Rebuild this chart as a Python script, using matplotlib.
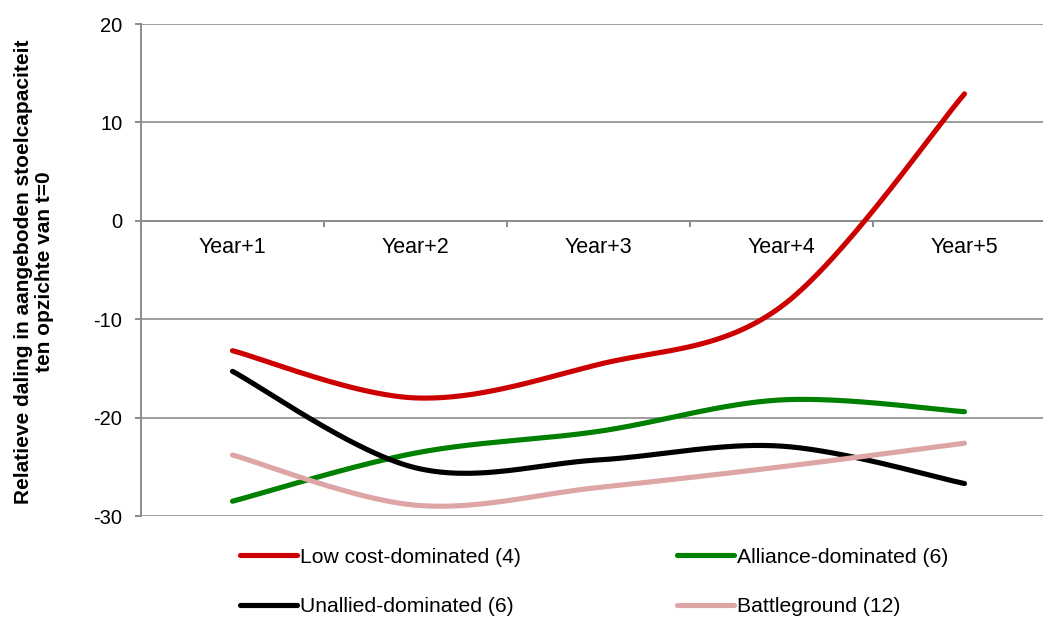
import numpy as np
import matplotlib
matplotlib.use("Agg")
import matplotlib.pyplot as plt

plt.rcParams['font.family'] = ['Liberation Sans', 'DejaVu Sans']

categories = ["Year+1", "Year+2", "Year+3", "Year+4", "Year+5"]
low_cost = [-13.2, -18.0, -14.6, -8.7, 12.9]
alliance = [-28.5, -23.6, -21.4, -18.2, -19.4]
unallied = [-15.3, -25.1, -24.3, -22.9, -26.7]
battleground = [-23.8, -28.9, -27.1, -25.0, -22.6]

series = [
    ("Low cost-dominated (4)", low_cost, "#CC0000"),
    ("Alliance-dominated (6)", alliance, "#008000"),
    ("Unallied-dominated (6)", unallied, "#000000"),
    ("Battleground (12)", battleground, "#DDA5A5"),
]
legend_order = [0, 2, 1, 3]


def smooth(xs, ys, n=60):
    xs = np.asarray(xs, float)
    ys = np.asarray(ys, float)
    P = np.column_stack([xs, ys])
    Pext = np.vstack([P[0], P, P[-1]])
    out = []
    for i in range(len(P) - 1):
        p0, p1, p2, p3 = Pext[i], Pext[i + 1], Pext[i + 2], Pext[i + 3]
        c1 = p1 + (p2 - p0) / 6.0
        c2 = p2 - (p3 - p1) / 6.0
        t = np.linspace(0, 1, n)[:, None]
        b = ((1 - t) ** 3) * p1 + 3 * ((1 - t) ** 2) * t * c1 + 3 * (1 - t) * t ** 2 * c2 + t ** 3 * p2
        out.append(b if i == 0 else b[1:])
    out = np.vstack(out)
    return out[:, 0], out[:, 1]


W, H = 1043, 617
fig = plt.figure(figsize=(W / 100, H / 100), dpi=100)
ax = fig.add_axes([141 / W, 1 - 516 / H, 915 / W, 492 / H])

x = np.arange(1, len(categories) + 1)
handles = []
for label, vals, color in series:
    sx, sy = smooth(x, vals)
    ln, = ax.plot(sx, sy, color=color, lw=3.7, solid_capstyle='round', zorder=3, label=label)
    handles.append(ln)

ax.set_xlim(0.5, len(categories) + 0.5)
ax.set_ylim(-30, 20)
ax.set_yticks([-30, -20, -10, 0, 10, 20])
ax.set_yticklabels(["-30", "-20", "-10", "0", "10", "20"])
ax.yaxis.grid(True, color="#8C8C8C", lw=1.2)
ax.set_axisbelow(True)

for s in ["top", "right"]:
    ax.spines[s].set_visible(False)
ax.spines["left"].set_color("#8C8C8C")
ax.spines["left"].set_linewidth(1.4)
ax.spines["bottom"].set_position(("data", 0))
ax.spines["bottom"].set_color("#8C8C8C")
ax.spines["bottom"].set_linewidth(1.4)

ax.set_xticks(np.arange(0.5, len(categories) + 1, 1.0))
ax.set_xticklabels([])
ax.set_xticks(x, minor=True)
ax.set_xticklabels(categories, minor=True)
ax.tick_params(axis="x", which="major", length=4.5, width=1.4, color="#8C8C8C", direction="out")
ax.tick_params(axis="x", which="minor", length=0, pad=12, labelsize=15.5)
ax.tick_params(axis="y", length=4.5, width=1.4, color="#8C8C8C", pad=9, labelsize=14.5)

fig.text(34 / W, 1 - 272 / H,
         "Relatieve daling in aangeboden stoelcapaciteit\nten opzichte van t=0",
         rotation=90, ha="center", va="center", fontsize=15, fontweight="bold",
         linespacing=1.08)

leg = fig.legend([handles[i] for i in legend_order], [series[i][0] for i in legend_order],
                 ncol=2, loc="center left", bbox_to_anchor=(240 / W, 1 - 582 / H),
                 frameon=False, fontsize=15.2, handlelength=2.7, handletextpad=0.15,
                 columnspacing=7.4, labelspacing=1.45, borderaxespad=0, borderpad=0)

fig.savefig("out.png", dpi=100)
